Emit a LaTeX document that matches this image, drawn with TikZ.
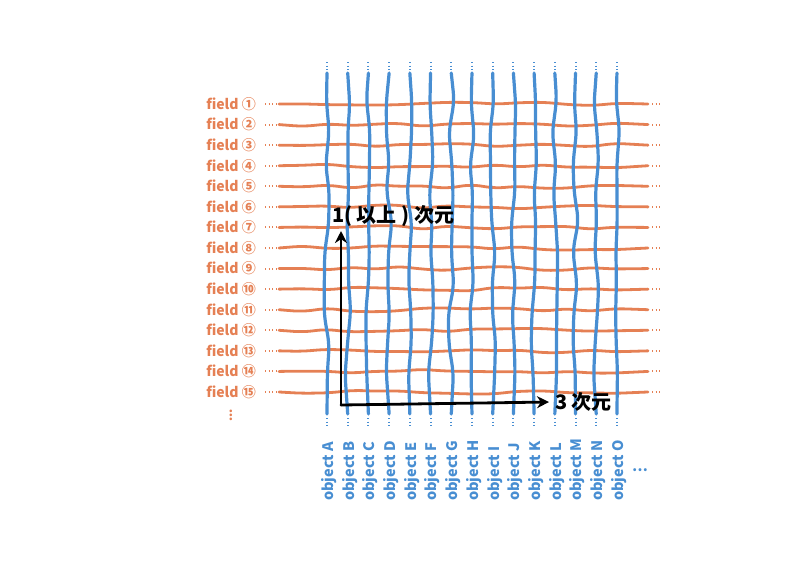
\documentclass[tikz,border=0pt]{standalone}
\usepackage{fontspec}
\setmainfont{Noto Sans CJK JP}
\usetikzlibrary{arrows.meta, positioning, decorations.pathmorphing}
\definecolor{warporange}{RGB}{229,128,84}
\definecolor{weftblue}{RGB}{72,142,210}

\begin{document}
\begin{tikzpicture}[x=1pt, y=1pt,
  fieldlabel/.style={text=warporange, font=\fontsize{14}{16}\selectfont\bfseries, anchor=east, inner sep=0pt},
  objlabel/.style={text=weftblue, font=\fontsize{14.5}{16}\selectfont\bfseries, rotate=90, anchor=west, inner sep=0pt},
  thread/.style={line width=2.8pt, line cap=round, decorate,
    decoration={random steps, segment length=24pt, amplitude=2.2pt}, rounded corners=9pt},
  tail/.style={line width=2pt, dash pattern=on 1.2pt off 2.4pt},
  axis/.style={line width=2.8pt, line cap=round, -{Stealth[length=12pt, width=12pt]}},
  dimlabel/.style={font=\fontsize{20}{22}\selectfont\bfseries, anchor=west, inner sep=0pt}]
  \useasboundingbox (0,0) rectangle (800,-566);
  \pgfmathsetseed{11}
  % fields (rows)
  \foreach \i/\c in {1/①,2/②,3/③,4/④,5/⑤,6/⑥,7/⑦,8/⑧,9/⑨,10/⑩,11/⑪,12/⑫,13/⑬,14/⑭,15/⑮} {
    \node[fieldlabel] (f\i) at (256,{-104-(\i-1)*20.57}) {field \c};
    \draw[warporange, tail] ([xshift=9pt]f\i.east) -- ([xshift=22pt]f\i.east);
    \draw[warporange, thread] ([xshift=23pt]f\i.east) -- ([xshift=392pt]f\i.east);
    \draw[warporange, tail] ([xshift=396pt]f\i.east) -- ([xshift=404pt]f\i.east);
  }
  \node[text=warporange, font=\fontsize{20}{22}\selectfont] (fmore) at (231,-412) {$\vdots$};
  % objects (columns)
  \foreach \j/\c in {1/A,2/B,3/C,4/D,5/E,6/F,7/G,8/H,9/I,10/J,11/K,12/L,13/M,14/N,15/O} {
    \node[objlabel] (o\j) at ({329+(\j-1)*20.71},-501) {object \c};
    \draw[weftblue, tail] ([xshift=-2pt,yshift=439pt]o\j.west) -- ([xshift=-2pt,yshift=429pt]o\j.west);
    \draw[weftblue, thread, line width=3.2pt, decoration={random steps, segment length=30pt, amplitude=3pt}]
      ([xshift=-2pt,yshift=428pt]o\j.west) -- ([xshift=-2pt,yshift=87pt]o\j.west);
    \draw[weftblue, tail] ([xshift=-2pt,yshift=83pt]o\j.west) -- ([xshift=-2pt,yshift=73pt]o\j.west);
  }
  \node[text=weftblue, font=\fontsize{14}{16}\selectfont\bfseries] (omore) at (640,-470) {⋯};
  % axes
  \coordinate (origin) at (341,-405);
  \node[dimlabel] (dimup) at (332,-216) {1( 以上 ) 次元};
  \node[dimlabel] (dimright) at (555,-402) {3 次元};
  \coordinate (upend) at (341,-231);
  \coordinate (rightend) at (549,-402);
  \draw[axis] (origin) -- (upend);
  \draw[axis] (origin) -- (rightend);
\end{tikzpicture}
\end{document}
